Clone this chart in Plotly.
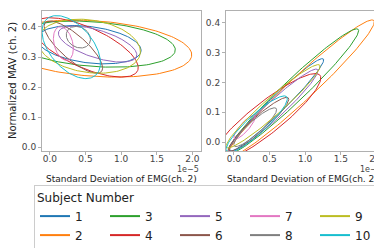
import numpy as np
import plotly.graph_objects as go

subjects = ["1", "2", "3", "4", "5", "6", "7", "8", "9", "10"]
colors = ["#1f77b4", "#ff7f0e", "#2ca02c", "#d62728", "#9467bd",
          "#8c564b", "#e377c2", "#7f7f7f", "#bcbd22", "#17becf"]

# Left panel: Std of EMG (x, units 1e-5) vs Normalized MAV (y) ellipses
left_mx = [0.55, 0.63, 0.61, 0.50, 0.67, 0.33, 0.19, 0.40, 0.55, 0.30]
left_sx = [0.73, 1.36, 1.15, 0.74, 0.55, 0.41, 0.14, 0.17, 0.72, 0.41]
left_my = [0.341, 0.328, 0.343, 0.332, 0.343, 0.333, 0.345, 0.366, 0.336, 0.333]
left_sy = [0.064, 0.095, 0.077, 0.099, 0.060, 0.087, 0.056, 0.036, 0.090, 0.105]
left_r = [-0.30, -0.22, -0.25, -0.68, -0.60, -0.80, -0.30, -0.20, -0.20, -0.50]

# Right panel ellipses
right_mx = [0.60, 0.94, 0.83, 0.45, 0.55, 0.35, 0.15, 0.30, 0.55, 0.32]
right_sx = [0.66, 1.03, 0.92, 0.77, 0.63, 0.42, 0.15, 0.30, 0.66, 0.43]
right_my = [0.125, 0.180, 0.170, 0.080, 0.105, 0.060, 0.050, 0.050, 0.120, 0.060]
right_sy = [0.155, 0.230, 0.210, 0.150, 0.140, 0.090, 0.040, 0.065, 0.140, 0.095]
right_r = [0.97, 0.97, 0.97, 0.90, 0.96, 0.93, 0.85, 0.90, 0.96, 0.90]

x_ticks = [0.0, 0.5, 1.0, 1.5, 2.0]
x_ticktext = ["0.0", "0.5", "1.0", "1.5", "2.0"]
y_ticks = [0.0, 0.1, 0.2, 0.3, 0.4]
y_ticktext = ["0.0", "0.1", "0.2", "0.3", "0.4"]
SCALE = 1e-5


def ellipse(mx, my, sx, sy, r, n=160):
    t = np.linspace(0, 2 * np.pi, n)
    rx = np.sqrt(1 + r)
    ry = np.sqrt(1 - r)
    c = np.sqrt(0.5)
    ex = rx * np.cos(t) * c - ry * np.sin(t) * c
    ey = rx * np.cos(t) * c + ry * np.sin(t) * c
    return (mx + sx * ex) * SCALE, my + sy * ey


fig = go.Figure()
for i in range(10):
    x, y = ellipse(left_mx[i], left_my[i], left_sx[i], left_sy[i], left_r[i])
    fig.add_trace(go.Scatter(x=x, y=y, mode="lines", xaxis="x", yaxis="y",
                             line=dict(color=colors[i], width=1), showlegend=False,
                             hoverinfo="skip"))
for i in range(10):
    x, y = ellipse(right_mx[i], right_my[i], right_sx[i], right_sy[i], right_r[i])
    fig.add_trace(go.Scatter(x=x, y=y, mode="lines", xaxis="x2", yaxis="y2",
                             line=dict(color=colors[i], width=1), showlegend=False,
                             hoverinfo="skip"))

# legend entries ordered so rows read 1,3,5,7,9 / 2,4,6,8,10
for i in [0, 2, 4, 6, 8, 1, 3, 5, 7, 9]:
    fig.add_trace(go.Scatter(x=[None], y=[None], mode="lines", name=subjects[i],
                             line=dict(color=colors[i], width=2), xaxis="x", yaxis="y"))

W, H = 382, 248

def px(xp):
    return xp / W

def py(yp):
    return (H - yp) / H

axis_common = dict(showline=True, linecolor="#b0b0b0", linewidth=1, mirror=True,
                   ticks="outside", ticklen=3, tickcolor="#b0b0b0", showgrid=False,
                   zeroline=False, automargin=False, tickfont=dict(size=9, color="#444"))
xr = [-0.11 * SCALE, 2.12 * SCALE]
ydom = [py(143), py(3)]
fig.update_layout(
    width=W, height=H,
    margin=dict(l=0, r=0, t=0, b=0),
    plot_bgcolor="white", paper_bgcolor="white",
    font=dict(family="DejaVu Sans", color="#444"),
    xaxis=dict(domain=[px(34), px(193)], range=xr, tickvals=[v * SCALE for v in x_ticks],
               ticktext=x_ticktext, anchor="y", ticklabelstandoff=-4, **axis_common),
    yaxis=dict(domain=ydom, range=[-0.0133, 0.4533], tickvals=y_ticks,
               ticktext=y_ticktext, anchor="x", **axis_common),
    xaxis2=dict(domain=[px(218), px(377)], range=xr, tickvals=[v * SCALE for v in x_ticks],
                ticktext=x_ticktext, anchor="y2", ticklabelstandoff=-4, **axis_common),
    yaxis2=dict(domain=ydom, range=[-0.03, 0.44], tickvals=y_ticks,
                ticktext=y_ticktext, anchor="x2", **axis_common),
    showlegend=True,
    legend=dict(orientation="h", x=px(26), y=py(177), xanchor="left", yanchor="top",
                bgcolor="white", bordercolor="#cccccc", borderwidth=1,
                entrywidth=25, entrywidthmode="pixels", itemwidth=30,
                font=dict(size=12, color="#222"), tracegroupgap=0,
                title=dict(text="Subject Number", side="top", font=dict(size=12, color="#222"))),
)

annos = [
    dict(text="Standard Deviation of EMG(ch. 2)", x=px(113), y=py(171)),
    dict(text="Standard Deviation of EMG(ch. 2)", x=px(294), y=py(171)),
]
for a in annos:
    fig.add_annotation(xref="paper", yref="paper", x=a["x"], y=a["y"], text=a["text"],
                       showarrow=False, xanchor="center", yanchor="middle",
                       font=dict(size=9, color="#222"))
for xr_edge in [193, 376]:
    fig.add_annotation(xref="paper", yref="paper", x=px(xr_edge), y=py(161), text="1e\u22125",
                       showarrow=False, xanchor="right", yanchor="middle",
                       font=dict(size=8, color="#444"))
fig.add_annotation(xref="paper", yref="paper", x=px(5), y=py(73), text="Normalized MAV (ch. 2)",
                   textangle=-90, showarrow=False, xanchor="center", yanchor="middle",
                   font=dict(size=10, color="#222"))

fig.write_html("out.html")
